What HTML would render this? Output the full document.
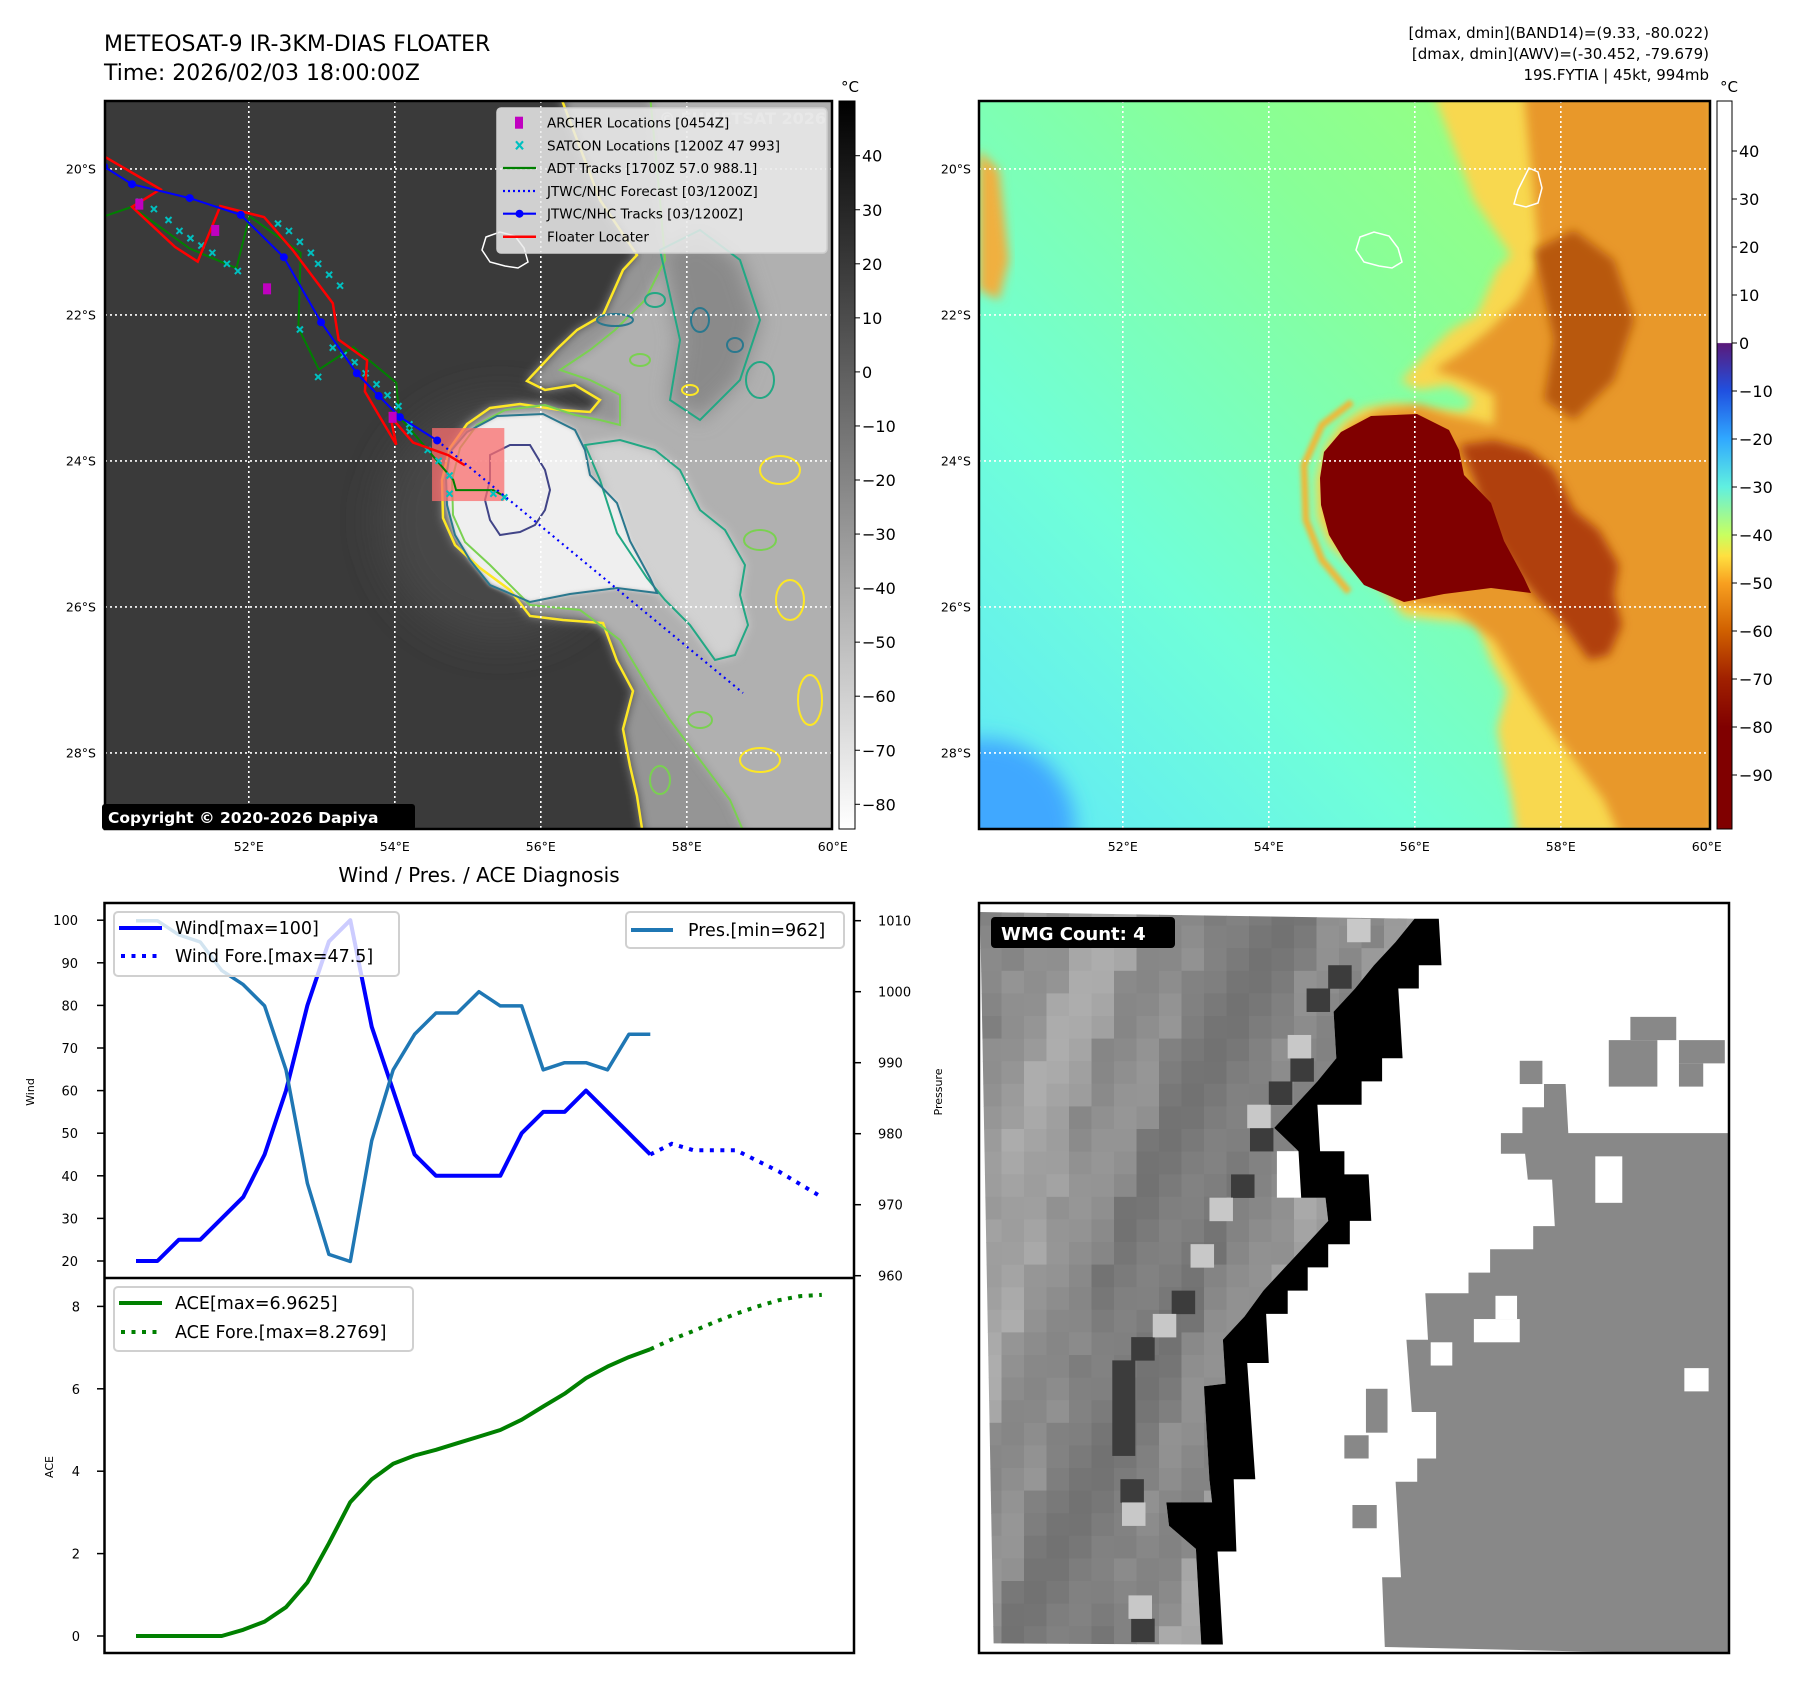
<!DOCTYPE html>
<html><head><meta charset="utf-8">
<style>
body{margin:0;background:#fff;width:1797px;height:1690px;overflow:hidden}
svg{display:block;font-family:"DejaVu Sans","Liberation Sans",sans-serif}
</style></head>
<body>
<svg id="fig" width="1797" height="1690" viewBox="0 0 1797 1690" xmlns="http://www.w3.org/2000/svg">
<defs>
  <clipPath id="lmClip"><rect x="105" y="101" width="727" height="728"/></clipPath>
  <clipPath id="rmClip"><rect x="979" y="101" width="731" height="728"/></clipPath>
  <clipPath id="brClip"><rect x="979" y="903" width="750" height="750"/></clipPath>
  <filter id="b2" x="-20%" y="-20%" width="140%" height="140%"><feGaussianBlur stdDeviation="2"/></filter>
  <filter id="b5" x="-20%" y="-20%" width="140%" height="140%"><feGaussianBlur stdDeviation="5"/></filter>
  <filter id="b10" x="-30%" y="-30%" width="160%" height="160%"><feGaussianBlur stdDeviation="10"/></filter>
  <filter id="b20" x="-50%" y="-50%" width="200%" height="200%"><feGaussianBlur stdDeviation="20"/></filter>
  <linearGradient id="cbL" x1="0" y1="0" x2="0" y2="1"><stop offset="0" stop-color="#000"/><stop offset="1" stop-color="#fff"/></linearGradient>
  <linearGradient id="cbR" x1="0" y1="0" x2="0" y2="1">
    <stop offset="0" stop-color="#fff"/><stop offset="0.332" stop-color="#fff"/>
    <stop offset="0.333" stop-color="#5a1a7a"/><stop offset="0.398" stop-color="#2050e0"/>
    <stop offset="0.464" stop-color="#30a8ff"/><stop offset="0.530" stop-color="#60f0e0"/>
    <stop offset="0.596" stop-color="#c8ff60"/><stop offset="0.625" stop-color="#ffe040"/>
    <stop offset="0.662" stop-color="#f8a020"/><stop offset="0.728" stop-color="#d06000"/>
    <stop offset="0.794" stop-color="#a02000"/><stop offset="0.86" stop-color="#800000"/>
    <stop offset="1" stop-color="#800000"/>
  </linearGradient>
  <linearGradient id="rmBase" x1="1" y1="0" x2="0" y2="1">
    <stop offset="0" stop-color="#a0ff70"/><stop offset="0.35" stop-color="#88ff98"/>
    <stop offset="0.7" stop-color="#70ffd8"/><stop offset="1" stop-color="#60e8f8"/>
  </linearGradient>
</defs>

<text x="104" y="51" font-size="22">METEOSAT-9 IR-3KM-DIAS FLOATER</text>
<text x="104" y="80" font-size="22">Time: 2026/02/03 18:00:00Z</text>
<text x="1709" y="38" font-size="15" text-anchor="end">[dmax, dmin](BAND14)=(9.33, -80.022)</text>
<text x="1709" y="59" font-size="15" text-anchor="end">[dmax, dmin](AWV)=(-30.452, -79.679)</text>
<text x="1709" y="80" font-size="15" text-anchor="end">19S.FYTIA | 45kt, 994mb</text>

<g id="lmap" clip-path="url(#lmClip)"></g>
<rect x="105" y="101" width="727" height="728" fill="none" stroke="#000" stroke-width="2.5"/>
<g id="lmapOver"></g>

<g id="rmap" clip-path="url(#rmClip)"></g>
<rect x="979" y="101" width="731" height="728" fill="none" stroke="#000" stroke-width="2.5"/>

<rect x="839" y="101" width="16" height="728" fill="url(#cbL)" stroke="#000" stroke-width="1"/>
<text x="850" y="92" font-size="15" text-anchor="middle">°C</text>
<rect x="1717" y="101" width="15" height="728" fill="url(#cbR)" stroke="#000" stroke-width="1"/>
<text x="1729" y="92" font-size="15" text-anchor="middle">°C</text>
<g id="axes"></g>

<text x="479" y="882" font-size="20" text-anchor="middle">Wind / Pres. / ACE Diagnosis</text>
<g id="chart"></g>

<g id="wmg" clip-path="url(#brClip)"></g>
<rect x="979" y="903" width="750" height="750" fill="none" stroke="#000" stroke-width="2.5"/>
<rect x="991" y="917" width="184" height="31" rx="4" fill="#000"/>
<text x="1001" y="940" font-size="18" font-weight="bold" fill="#fff">WMG Count: 4</text>
</svg>

<script>
// ===== Diagnosis chart data =====
const windObs=[20,20,25,25,30,35,45,60,80,95,100,75,60,45,40,40,40,40,50,55,55,60,55,50,45];
const windFore=[45,47.5,46,46,46,43.5,41,38,35];
const presObs=[1010,1010,1008,1007,1003,1001,998,989,973,963,962,979,989,994,997,997,1000,998,998,989,990,990,989,994,994];
const aceObs=[0,0,0,0,0,0.15,0.35,0.7,1.3,2.25,3.25,3.8,4.18,4.38,4.52,4.68,4.84,5.0,5.25,5.57,5.88,6.26,6.54,6.77,6.96];
const aceFore=[6.96,7.2,7.4,7.62,7.82,8.0,8.15,8.25,8.28];
const windTicks=[20,30,40,50,60,70,80,90,100];
const presTicks=[960,970,980,990,1000,1010];
const aceTicks=[0,2,4,6,8];
const latTicks=[20,22,24,26,28];
const lonTicks=[52,54,56,58,60];
const irTicks=[40,30,20,10,0,-10,-20,-30,-40,-50,-60,-70,-80];
const awvTicks=[40,30,20,10,0,-10,-20,-30,-40,-50,-60,-70,-80,-90];

// tracks (lon, lat)
const jtwcLon=[50.02,50.40,51.19,51.89,52.48,52.99,53.48,53.78,54.07,54.58];
const jtwcLat=[19.97,20.21,20.40,20.63,21.21,22.10,22.80,23.11,23.40,23.72];
const foreLon=[54.58,58.77];
const foreLat=[23.72,27.18];
const redLon=[50.02,50.79,50.40,50.99,51.30,51.61,52.21,52.60,53.15,53.23,53.62,53.59,54.02,53.94,54.25,54.73,54.96];
const redLat=[19.83,20.28,20.52,21.07,21.27,20.51,20.66,21.11,21.84,22.34,22.62,23.05,23.78,23.39,23.75,23.92,24.06];
const adtLon=[50.02,50.40,51.19,51.83,52.01,52.71,52.68,52.96,53.43,54.02,54.06,54.80,54.84,55.35,55.51];
const adtLat=[20.65,20.52,21.09,21.36,20.65,21.15,22.18,22.75,22.44,22.93,23.39,24.26,24.40,24.40,24.49];
const satLon=[50.5,50.7,50.9,51.05,51.2,51.35,51.5,51.7,51.85,52.4,52.55,52.7,52.85,52.95,53.1,53.25,52.7,53.15,53.3,53.45,53.6,53.75,53.9,54.05,54.2,54.2,54.45,54.6,54.75,54.75,55.35,55.5,52.95];
const satLat=[20.45,20.55,20.7,20.85,20.95,21.05,21.15,21.3,21.4,20.75,20.85,21.0,21.15,21.3,21.45,21.6,22.2,22.45,22.55,22.65,22.8,22.95,23.1,23.25,23.5,23.6,23.85,24.0,24.2,24.45,24.45,24.5,22.85];
const archLon=[50.5,51.54,52.25,53.97];
const archLat=[20.49,20.85,21.65,23.41];
const boxLon=[54.51,55.5];
const boxLat=[23.55,24.55];

const NS='http://www.w3.org/2000/svg';
function mk(tag,attrs,parent){const e=document.createElementNS(NS,tag);for(const k in attrs)e.setAttribute(k,attrs[k]);parent.appendChild(e);return e;}
function pts(a,dx){dx=dx||0;return a.map(p=>(p[0]+dx).toFixed(1)+','+p[1].toFixed(1)).join(' ');}
const lx=lon=>105+(lon-50.03)*73;
const ly=lat=>101+(lat-19.07)*73;

// ===== Map shapes (pixel outlines of imagery features, left-map coordinates) =====
const outerShape=[[840,95],[560,95],[600,200],[637,255],[623,270],[603,315],[577,330],[557,349],[527,381],[545,390],[575,385],[600,400],[590,412],[560,410],[520,404],[490,408],[467,424],[450,448],[442,480],[443,518],[455,545],[480,568],[510,590],[530,616],[563,620],[603,623],[617,661],[633,691],[627,714],[623,729],[630,766],[637,796],[643,835],[840,835]];
const innerShape=[[840,95],[650,95],[660,200],[665,260],[645,300],[615,330],[590,350],[560,370],[590,380],[620,395],[620,425],[600,420],[575,415],[545,405],[505,410],[477,425],[460,448],[452,480],[453,515],[465,542],[490,565],[530,605],[580,610],[620,640],[650,690],[670,720],[700,760],[730,800],[745,835],[840,835]];
const coreShape=[[450,452],[467,432],[497,416],[543,414],[575,430],[585,450],[590,475],[617,503],[630,541],[650,578],[657,593],[617,588],[570,594],[530,602],[490,585],[470,560],[455,535],[447,505],[446,478]];
const extShape=[[585,445],[600,480],[617,533],[647,578],[665,600],[690,625],[715,660],[735,655],[748,625],[740,595],[745,565],[725,530],[700,510],[680,470],[655,450],[620,440]];
const dbShape=[[490,455],[510,445],[530,445],[545,470],[550,490],[545,510],[535,525],[520,532],[500,535],[490,520],[485,500],[490,480]];
const neDark=[[660,250],[700,230],[740,260],[760,320],[740,380],[700,420],[670,400],[680,340]];
const reunion=[[486,237],[500,232],[515,236],[524,248],[528,262],[518,268],[505,266],[490,262],[482,250]];
const mauritius=[[655,168],[664,172],[668,188],[664,203],[652,207],[640,204],[644,190],[650,178]];
const loops=[[615,320,18,6,'#2a788e'],[655,300,10,7,'#22a884'],[700,320,9,12,'#2a788e'],[735,345,8,7,'#2a788e'],[760,380,14,18,'#22a884'],[690,390,8,5,'#fde725'],[640,360,10,6,'#7ad151'],[780,470,20,14,'#fde725'],[760,540,16,10,'#7ad151'],[790,600,14,20,'#fde725'],[700,720,12,8,'#7ad151'],[760,760,20,12,'#fde725'],[660,780,10,14,'#7ad151'],[810,700,12,25,'#fde725']];

// ----- left IR map -----
const lm=document.getElementById('lmap');
let e;
e=mk('rect',{x:105,y:101,width:727,height:728,fill:'#3a3a3a'},lm);


e=mk('ellipse',{cx:500,cy:520,rx:120,ry:120,fill:'#464646',filter:'url(#b20)'},lm);


e=mk('polygon',{points:pts(outerShape),fill:'#959595',filter:'url(#b5)'},lm);


e=mk('polygon',{points:pts(innerShape),fill:'#b0b0b0',filter:'url(#b5)'},lm);


e=mk('polygon',{points:pts(neDark),fill:'#8a8a8a',filter:'url(#b10)'},lm);


e=mk('polygon',{points:pts(extShape),fill:'#d2d2d2',filter:'url(#b5)'},lm);


e=mk('polygon',{points:pts(coreShape),fill:'#efefef',filter:'url(#b2)'},lm);


e=mk('polygon',{points:pts(outerShape),fill:'none',stroke:'#fde725','stroke-width':2.5},lm);


e=mk('polygon',{points:pts(innerShape),fill:'none',stroke:'#7ad151','stroke-width':2},lm);


e=mk('polygon',{points:pts(neDark),fill:'none',stroke:'#22a884','stroke-width':2},lm);


e=mk('polygon',{points:pts(extShape),fill:'none',stroke:'#22a884','stroke-width':2},lm);


e=mk('polygon',{points:pts(coreShape),fill:'none',stroke:'#2a788e','stroke-width':2},lm);


e=mk('polygon',{points:pts(dbShape),fill:'none',stroke:'#414487','stroke-width':2},lm);


loops.forEach(l=>{
  const o=mk('ellipse',{cx:l[0],cy:l[1],rx:l[2],ry:l[3],fill:'none',stroke:l[4],'stroke-width':2},lm);
  
  
});
e=mk('polygon',{points:pts(reunion),fill:'none',stroke:'#fff','stroke-width':1.5},lm);



// ----- right AWV map -----
const rm=document.getElementById('rmap');
const D=874;
e=mk('rect',{x:979,y:101,width:731,height:728,fill:'url(#rmBase)'},rm);


e=mk('circle',{cx:985,cy:829,r:90,fill:'#40a8ff',filter:'url(#b10)'},rm);


e=mk('polygon',{points:pts([[105,150],[125,170],[135,260],[125,300],[105,290]],D),fill:'#f0b040',filter:'url(#b5)'},rm);


e=mk('polygon',{points:pts(outerShape,D),fill:'#f8d850',filter:'url(#b5)'},rm);


e=mk('polygon',{points:pts(innerShape,D),fill:'#e8982c',filter:'url(#b5)'},rm);


e=mk('polygon',{points:pts(neDark,D),fill:'#b85810',filter:'url(#b5)'},rm);


e=mk('polygon',{points:pts(extShape,D),fill:'#b04008',filter:'url(#b5)'},rm);


e=mk('polyline',{points:pts([[478,402],[448,425],[430,465],[432,520],[448,560],[475,592]],D),fill:'none',stroke:'#f0b838','stroke-width':7,filter:'url(#b2)'},rm);


e=mk('polygon',{points:pts(coreShape,D),fill:'#800000'},rm);


e=mk('polygon',{points:pts(reunion,D),fill:'none',stroke:'#fff','stroke-width':1.5},rm);


e=mk('polygon',{points:pts(mauritius,D),fill:'none',stroke:'#fff','stroke-width':1.5},rm);



// gridlines
[[lm,0],[rm,D]].forEach(([g,dx])=>{
  lonTicks.slice(0,4).forEach(lon=>{
    const l=mk('line',{x1:lx(lon)+dx,x2:lx(lon)+dx,y1:101,y2:829,stroke:'#fff','stroke-width':1.6,'stroke-dasharray':'2,3'},g);
    
    
  });
  latTicks.forEach(lat=>{
    const l=mk('line',{x1:105+dx,x2:832+dx,y1:ly(lat),y2:ly(lat),stroke:'#fff','stroke-width':1.6,'stroke-dasharray':'2,3'},g);
    
    
  });
});

// tracks on left map
const tr=lm;
e=mk('rect',{x:lx(boxLon[0]),y:ly(boxLat[0]),width:lx(boxLon[1])-lx(boxLon[0]),height:ly(boxLat[1])-ly(boxLat[0]),fill:'rgba(250,110,110,0.75)'},tr);


const path=(lons,lats)=>lons.map((v,i)=>lx(v).toFixed(1)+','+ly(lats[i]).toFixed(1)).join(' ');
e=mk('polyline',{points:path(adtLon,adtLat),fill:'none',stroke:'#008000','stroke-width':2},tr);


satLon.forEach((v,i)=>{
  const x=lx(v),y=ly(satLat[i]);
  const m=mk('path',{d:`M${x-3},${y-3}L${x+3},${y+3}M${x-3},${y+3}L${x+3},${y-3}`,stroke:'#00c0c0','stroke-width':2},tr);
  
  
});
e=mk('polyline',{points:path(redLon,redLat),fill:'none',stroke:'#ff0000','stroke-width':2.5},tr);


e=mk('polyline',{points:path(jtwcLon,jtwcLat),fill:'none',stroke:'#0000ff','stroke-width':2},tr);


jtwcLon.forEach((v,i)=>{
  const c=mk('circle',{cx:lx(v),cy:ly(jtwcLat[i]),r:4,fill:'#0000ff'},tr);
  
  
});
e=mk('polyline',{points:path(foreLon,foreLat),fill:'none',stroke:'#0000ff','stroke-width':2.2,'stroke-dasharray':'2,4'},tr);


archLon.forEach((v,i)=>{
  const r=mk('rect',{x:lx(v)-4,y:ly(archLat[i])-6,width:8,height:11,fill:'#c000c0'},tr);
  
  
});

// watermark, legend, copyright on left map
const ov=document.getElementById('lmapOver');
e=mk('text',{x:826,y:124,'font-size':16,'font-weight':'bold',fill:'#d8d8d8','text-anchor':'end'},ov);
e.textContent='© EUMETSAT 2026';


e=mk('rect',{x:497,y:108,width:330,height:145,rx:4,fill:'rgba(235,235,235,0.85)',stroke:'#cfcfcf','stroke-width':1.5},ov);


const legY=[122.7,145.3,168,191,213.7,236.7];
const legTxt=['ARCHER Locations [0454Z]','SATCON Locations [1200Z 47 993]','ADT Tracks [1700Z 57.0 988.1]','JTWC/NHC Forecast [03/1200Z]','JTWC/NHC Tracks [03/1200Z]','Floater Locater'];
e=mk('rect',{x:515,y:legY[0]-6,width:8,height:12,fill:'#c000c0'},ov);


e=mk('path',{d:`M516,${legY[1]-4}L523,${legY[1]+4}M516,${legY[1]+4}L523,${legY[1]-4}`,stroke:'#00c0c0','stroke-width':2.2},ov);


e=mk('line',{x1:503,x2:536,y1:legY[2],y2:legY[2],stroke:'#008000','stroke-width':2.2},ov);


e=mk('line',{x1:503,x2:536,y1:legY[3],y2:legY[3],stroke:'#0000ff','stroke-width':2.2,'stroke-dasharray':'2,3'},ov);


e=mk('line',{x1:503,x2:536,y1:legY[4],y2:legY[4],stroke:'#0000ff','stroke-width':2.2},ov);


e=mk('circle',{cx:519.5,cy:legY[4],r:4,fill:'#0000ff'},ov);


e=mk('line',{x1:503,x2:536,y1:legY[5],y2:legY[5],stroke:'#ff0000','stroke-width':2.5},ov);


legTxt.forEach((t,i)=>{
  const tx=mk('text',{x:547,y:legY[i]+5,'font-size':13.5},ov);
  tx.textContent=t;
  
  
});
e=mk('rect',{x:102,y:804,width:313,height:26,rx:3,fill:'#000'},ov);


e=mk('text',{x:108,y:823,'font-size':15.5,'font-weight':'bold',fill:'#fff'},ov);
e.textContent='Copyright © 2020-2026 Dapiya';



// map axes ticks
const ax=document.getElementById('axes');
[[0,96],[874,971]].forEach(([dx,lxr])=>{
  latTicks.forEach(lat=>{
    const t=mk('text',{x:lxr,y:ly(lat)+4.5,'font-size':12.5,'text-anchor':'end'},ax);
    t.textContent=lat+'°S';
    
    
  });
  lonTicks.forEach(lon=>{
    const t=mk('text',{x:lx(lon)+dx,y:851,'font-size':12.5,'text-anchor':'middle'},ax);
    t.textContent=lon+'°E';
    
    
  });
});
const irY=v=>155.7+(40-v)*5.405;
irTicks.forEach(v=>{
  const l=mk('line',{x1:855,x2:860,y1:irY(v),y2:irY(v),stroke:'#000','stroke-width':1},ax);
  
  
  const t=mk('text',{x:862,y:irY(v)+6,'font-size':16},ax);
  t.textContent=v<0?'\u2212'+(-v):String(v);
  
  
});
const awY=v=>151+(40-v)*4.8;
awvTicks.forEach(v=>{
  const l=mk('line',{x1:1732,x2:1737,y1:awY(v),y2:awY(v),stroke:'#000','stroke-width':1},ax);
  
  
  const t=mk('text',{x:1739,y:awY(v)+6,'font-size':16},ax);
  t.textContent=v<0?'\u2212'+(-v):String(v);
  
  
});

// ===== Diagnosis chart =====
const ch=document.getElementById('chart');
const X0=136,DX=21.43;
const xi=i=>X0+i*DX;
const wy=v=>1261-(v-20)*4.26;
const py=p=>1275.7-(p-960)*7.1;
const ay=a=>1636-a*41.2;
const linePts=(arr,fy,off)=>arr.map((v,i)=>xi(i+off).toFixed(1)+','+fy(v).toFixed(1)).join(' ');
e=mk('rect',{x:104.5,y:903,width:749.5,height:750,fill:'none',stroke:'#000','stroke-width':2.5},ch);


e=mk('line',{x1:104.5,x2:854,y1:1278,y2:1278,stroke:'#000','stroke-width':2.5},ch);


windTicks.forEach(v=>{
  const l=mk('line',{x1:97,x2:104.5,y1:wy(v),y2:wy(v),stroke:'#000','stroke-width':1.5},ch);
  
  
  const t=mk('text',{x:78,y:wy(v)+5,'font-size':13,'text-anchor':'end'},ch);
  t.textContent=v;
  
  
});
presTicks.forEach(v=>{
  const l=mk('line',{x1:854,x2:861,y1:py(v),y2:py(v),stroke:'#000','stroke-width':1.5},ch);
  
  
  const t=mk('text',{x:878,y:py(v)+5,'font-size':13},ch);
  t.textContent=v;
  
  
});
aceTicks.forEach(v=>{
  const l=mk('line',{x1:97,x2:104.5,y1:ay(v),y2:ay(v),stroke:'#000','stroke-width':1.5},ch);
  
  
  const t=mk('text',{x:80,y:ay(v)+5,'font-size':13,'text-anchor':'end'},ch);
  t.textContent=v;
  
  
});
e=mk('text',{x:0,y:0,'font-size':11,'text-anchor':'middle',transform:'translate(34,1092) rotate(-90)'},ch);
e.textContent='Wind';


e=mk('text',{x:0,y:0,'font-size':11,'text-anchor':'middle',transform:'translate(942,1092) rotate(-90)'},ch);
e.textContent='Pressure';


e=mk('text',{x:0,y:0,'font-size':11,'text-anchor':'middle',transform:'translate(53,1467) rotate(-90)'},ch);
e.textContent='ACE';



e=mk('polyline',{points:linePts(windObs,wy,0),fill:'none',stroke:'#0000ff','stroke-width':4,'stroke-linejoin':'round'},ch);


e=mk('polyline',{points:linePts(windFore,wy,24),fill:'none',stroke:'#0000ff','stroke-width':4,'stroke-dasharray':'4,6.5'},ch);


e=mk('polyline',{points:linePts(presObs,py,0),fill:'none',stroke:'#1f77b4','stroke-width':3.5,'stroke-linejoin':'round'},ch);


e=mk('polyline',{points:linePts(aceObs,ay,0),fill:'none',stroke:'#008000','stroke-width':4,'stroke-linejoin':'round'},ch);


e=mk('polyline',{points:linePts(aceFore,ay,24),fill:'none',stroke:'#008000','stroke-width':4,'stroke-dasharray':'4,6.5'},ch);



// chart legends
function legendBox(x,y,w,h){return mk('rect',{x:x,y:y,width:w,height:h,rx:4,fill:'rgba(255,255,255,0.8)',stroke:'#d0d0d0','stroke-width':2},ch);}
e=legendBox(114,912,285,64);


e=mk('line',{x1:119,x2:162,y1:928,y2:928,stroke:'#0000ff','stroke-width':4},ch);


e=mk('line',{x1:121,x2:162,y1:956,y2:956,stroke:'#0000ff','stroke-width':4,'stroke-dasharray':'4,6.5'},ch);


e=mk('text',{x:175,y:934,'font-size':17.5},ch);
e.textContent='Wind[max=100]';


e=mk('text',{x:175,y:962,'font-size':17.5},ch);
e.textContent='Wind Fore.[max=47.5]';


e=legendBox(626,912,218,36);


e=mk('line',{x1:631,x2:673,y1:930,y2:930,stroke:'#1f77b4','stroke-width':4},ch);


e=mk('text',{x:688,y:936,'font-size':17.5},ch);
e.textContent='Pres.[min=962]';


e=legendBox(114,1287,299,64);


e=mk('line',{x1:119,x2:162,y1:1303,y2:1303,stroke:'#008000','stroke-width':4},ch);


e=mk('line',{x1:121,x2:162,y1:1332,y2:1332,stroke:'#008000','stroke-width':4,'stroke-dasharray':'4,6.5'},ch);


e=mk('text',{x:175,y:1309,'font-size':17.5},ch);
e.textContent='ACE[max=6.9625]';


e=mk('text',{x:175,y:1338,'font-size':17.5},ch);
e.textContent='ACE Fore.[max=8.2769]';



// ===== WMG panel (image-like raster) =====
const wg=document.getElementById('wmg');
const bx=z=>979+(z-53)/1.853, by=z=>880+z/1.936;
const zp=a=>a.map(p=>bx(p[0]).toFixed(1)+','+by(p[1]).toFixed(1)).join(' ');
const bandR=[[905,75],[910,165],[868,165],[868,210],[830,210],[838,345],[800,345],[800,390],[762,390],[762,435],[680,435],[685,525],[730,525],[730,570],[775,570],[780,660],[740,660],[740,705],[700,705],[700,750],[662,750],[662,795],[625,795],[625,840],[585,840],[590,935],[550,935],[565,1160],[525,1160],[530,1300],[495,1300],[505,1480]];
const bandL=[[465,1480],[455,1295],[405,1250],[400,1205],[485,1205],[480,1160],[470,980],[510,975],[505,890],[545,845],[580,795],[620,750],[660,705],[700,660],[695,615],[650,615],[645,525],[600,480],[640,435],[680,390],[715,345],[710,255],[750,210],[785,165],[825,120],[860,75]];
e=mk('rect',{x:979,y:903,width:750,height:750,fill:'#fff'},wg);


const leftClip=[[55,62]].concat(bandL.slice().reverse()).concat([[80,1478]]);
const cp=mk('clipPath',{id:'wmgLeft'},document.querySelector('defs'));
mk('polygon',{points:zp(leftClip)},cp);
const cells=mk('g',{'clip-path':'url(#wmgLeft)'},wg);


for(let r=0;r<34;r++){
  for(let c=0;c<22;c++){
    const x=979+c*22.5, y=903+r*22.6;
    const u=(x-979)+0.3*(y-903);
    let s;
    if(u<40)s=130;else if(u<90)s=150;else if(u<150)s=165;else if(u<220)s=142;else if(u<330)s=122;else if(u<395)s=138;else s=162;
    s+=Math.round(8*Math.sin(r*0.7+c*1.3));
    const cell=mk('rect',{x:x.toFixed(1),y:y.toFixed(1),width:23,height:23.1,fill:`rgb(${s},${s},${s})`},cells);
    
    
  }
}
const darkCells=[[700,165],[660,210],[630,345],[590,390],[555,480],[520,570],[410,795],[335,885],[315,1160],[335,1430]];
darkCells.forEach(p=>{
  const d=mk('rect',{x:bx(p[0]),y:by(p[1]),width:23.5,height:23.5,fill:'#3c3c3c'},wg);
  
  
});
e=mk('rect',{x:bx(300),y:by(930),width:23,height:(by(1115)-by(930)),fill:'#3c3c3c'},wg);


const lightCells=[[735,75],[625,300],[550,435],[480,615],[445,705],[375,840],[318,1205],[330,1385]];
lightCells.forEach(p=>{
  const d=mk('rect',{x:bx(p[0]),y:by(p[1]),width:23.5,height:23.5,fill:'#c8c8c8'},wg);
  
  
});
e=mk('rect',{x:bx(605),y:by(525),width:bx(650)-bx(605),height:by(615)-by(525),fill:'#fff'},wg);


e=mk('polygon',{points:zp(bandR.concat(bandL)),fill:'#000'},wg);


const grayRegion=[[1445,490],[1445,1500],[805,1485],[800,1350],[835,1350],[825,1165],[865,1165],[865,1120],[900,1120],[900,1030],[855,1030],[845,890],[885,890],[880,800],[960,800],[960,760],[1000,760],[1000,715],[1080,715],[1080,670],[1120,670],[1115,580],[1070,580],[1065,530],[1020,530],[1020,490],[1060,490],[1060,440],[1100,440],[1100,395],[1140,395],[1145,490]];
e=mk('polygon',{points:zp(grayRegion),fill:'#888'},wg);


const whiteHoles=[[1195,535,1245,625],[970,850,1055,895],[1010,805,1050,850],[890,895,930,940],[1360,945,1405,990]];
whiteHoles.forEach(h=>{
  const d=mk('rect',{x:bx(h[0]),y:by(h[1]),width:bx(h[2])-bx(h[0]),height:by(h[3])-by(h[1]),fill:'#fff'},wg);
  
  
});
const blobs=[[1260,265,1345,310],[1220,310,1310,400],[1350,310,1435,355],[1350,355,1395,400],[1055,350,1097,395],[770,985,810,1070],[730,1075,775,1120],[745,1210,790,1255]];
blobs.forEach(h=>{
  const d=mk('rect',{x:bx(h[0]),y:by(h[1]),width:bx(h[2])-bx(h[0]),height:by(h[3])-by(h[1]),fill:'#888'},wg);
  
  
});
</script>
</body></html>
